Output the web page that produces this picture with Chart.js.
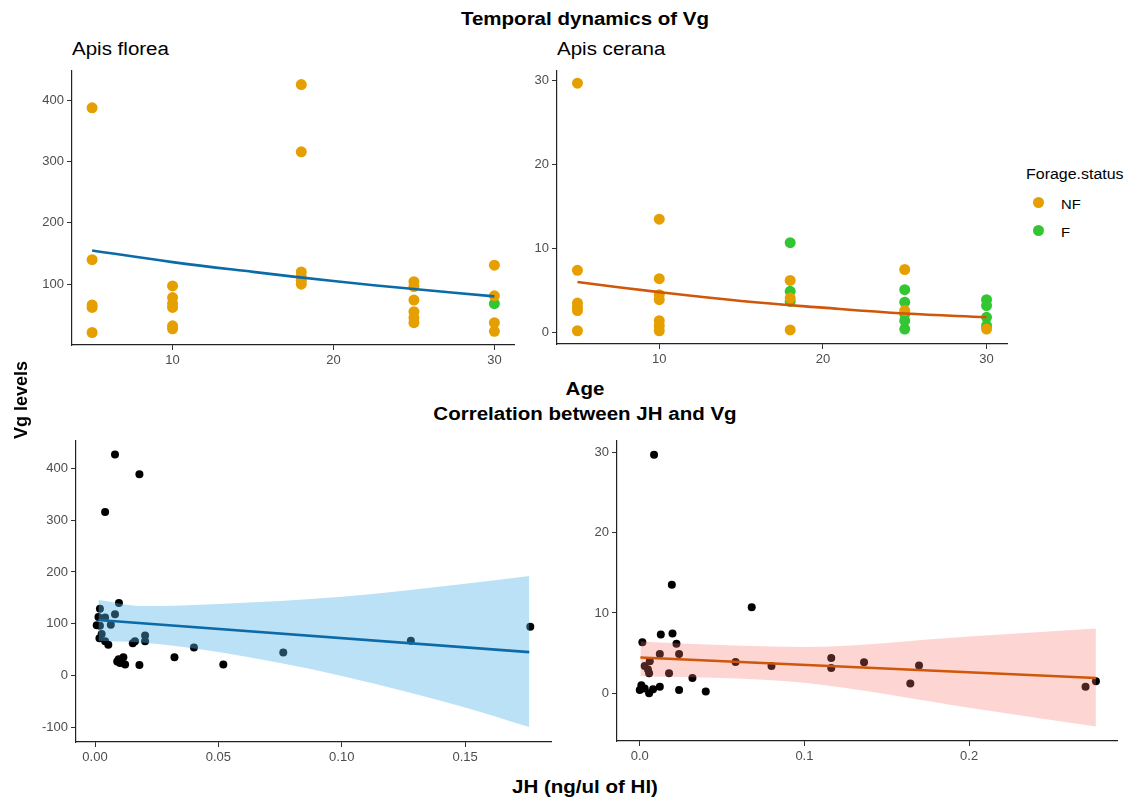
<!DOCTYPE html>
<html>
<head>
<meta charset="utf-8">
<script src="https://cdn.jsdelivr.net/npm/chart.js@4.4.1/dist/chart.umd.min.js"></script>
<style>
  body { margin: 0; background: #fff; font-family: "Liberation Sans", Arial, sans-serif; }
  #page { position: relative; width: 1136px; height: 797px; overflow: hidden; }
  canvas { position: absolute; }
  .t { position: absolute; white-space: nowrap; font-size: 18px; line-height: 18px; color: #000; }
  .b { font-weight: bold; }
  .c { text-align: center; width: 500px; transform: scaleX(1.14); }
  .l { transform: scaleX(1.14); transform-origin: left center; }
  .dot { position: absolute; width: 11px; height: 11px; border-radius: 50%; }
</style>
</head>
<body>
<div id="page">
  <canvas id="plot-1" width="500" height="310" style="left:20px;top:60px"></canvas>
  <canvas id="plot-2" width="495" height="310" style="left:520px;top:60px"></canvas>
  <canvas id="plot-3" width="540" height="340" style="left:20px;top:430px"></canvas>
  <canvas id="plot-4" width="560" height="340" style="left:570px;top:430px"></canvas>

  <div class="t b c" style="left:335px;top:10px">Temporal dynamics of Vg</div>
  <div class="t l" style="left:72px;top:40px">Apis florea</div>
  <div class="t l" style="left:557px;top:40px">Apis cerana</div>
  <div class="t b c" style="left:335px;top:380px">Age</div>
  <div class="t b c" style="left:335px;top:405px">Correlation between JH and Vg</div>
  <div class="t b" style="left:-39px;top:391px;width:120px;text-align:center;transform:rotate(-90deg)">Vg levels</div>
  <div class="t b c" style="left:335px;top:778px">JH (ng/ul of Hl)</div>

  <div class="t l" style="left:1026px;top:165px;font-size:14px">Forage.status</div>
  <div class="dot" style="left:1033px;top:197px;background:#E69F00"></div>
  <div class="t l" style="left:1061px;top:196px;font-size:13px">NF</div>
  <div class="dot" style="left:1033px;top:225px;background:#33C633"></div>
  <div class="t l" style="left:1061px;top:224px;font-size:13px">F</div>
</div>

<script>
// ---- Temporal dynamics: Apis florea ----
const floreaNFAge = [5, 5, 5, 5, 5, 10, 10, 10, 10, 10, 10, 18, 18, 18, 18, 18, 18, 25, 25, 25, 25, 25, 25, 30, 30, 30, 30];
const floreaNFVg = [388, 140, 66, 62, 21, 97, 78, 68, 62, 32, 27, 426, 316, 120, 112, 106, 100, 104, 96, 74, 55, 45, 37, 131, 81, 37, 23];
const floreaFAge = [30];
const floreaFVg = [68];
const floreaFitAge = [5, 10, 15, 20, 25, 30];
const floreaFitVg = [155, 136, 120, 105, 92, 80];

// ---- Temporal dynamics: Apis cerana ----
const ceranaNFAge = [5, 5, 5, 5, 5, 5, 10, 10, 10, 10, 10, 10, 10, 18, 18, 18, 25, 25, 30];
const ceranaNFVg = [29.7, 7.4, 3.5, 3.0, 2.6, 0.2, 13.5, 6.4, 4.5, 3.9, 1.4, 0.8, 0.2, 6.2, 4.1, 0.3, 7.5, 2.6, 0.4];
const ceranaFAge = [18, 18, 18, 25, 25, 25, 25, 25, 30, 30, 30, 30];
const ceranaFVg = [10.7, 4.9, 3.7, 5.1, 3.6, 2.2, 1.4, 0.4, 3.9, 3.2, 1.8, 0.8];
const ceranaFitAge = [5, 10, 15, 20, 25, 30];
const ceranaFitVg = [6.0, 4.8, 3.75, 2.95, 2.25, 1.8];

// ---- Correlation JH vs Vg: Apis florea ----
const floreaJH = [0.0081, 0.018, 0.0041, 0.0097, 0.002, 0.0081, 0.0041, 0.0014, 0.0007, 0.002, 0.0064, 0.0027, 0.0018, 0.0041, 0.0054,
  0.0203, 0.0203, 0.0162, 0.0153, 0.0096, 0.0115, 0.0122, 0.0101, 0.009, 0.018, 0.0322, 0.0401, 0.052, 0.0763, 0.128, 0.1764];
const floreaJHVg = [427, 389, 316, 140, 129, 118, 112, 113, 97, 96, 98, 80, 72, 66, 59,
  77, 66, 66, 62, 31, 35, 21, 24, 27, 20, 35, 54, 21, 44, 67, 94];
const floreaLineJH = [0.0014, 0.176];
const floreaLineVg = [107, 45];
const floreaBandJH = [0.0014, 0.02, 0.05, 0.1, 0.15, 0.176];
const floreaBandHi = [146, 134, 138, 152, 177, 192];
const floreaBandLo = [67, 63, 45, -1, -62, -100];

// ---- Correlation JH vs Vg: Apis cerana ----
const ceranaJH = [0.0087, 0.0195, 0.068, 0.0128, 0.0199, 0.0016, 0.0223, 0.0122, 0.0239, 0.0061, 0.003, 0.005, 0.0057, 0.0178, 0.032,
  0.001, 0.0, 0.003, 0.0057, 0.0081, 0.0122, 0.0239, 0.0401, 0.0582, 0.08, 0.1163, 0.1163, 0.1362, 0.1643, 0.1696, 0.2707, 0.277];
const ceranaJHVg = [29.7, 13.5, 10.7, 7.3, 7.45, 6.35, 6.15, 4.9, 4.9, 3.97, 3.4, 2.95, 2.5, 2.5, 1.9,
  1.0, 0.4, 0.6, 0.0, 0.5, 0.8, 0.4, 0.2, 3.9, 3.4, 4.4, 3.15, 3.85, 1.2, 3.45, 0.8, 1.5];
const ceranaLineJH = [0.0004, 0.277];
const ceranaLineVg = [4.45, 1.9];
const ceranaBandJH = [0.0004, 0.05, 0.1, 0.2, 0.277];
const ceranaBandHi = [6.45, 6.0, 5.75, 7.05, 8.07];
const ceranaBandLo = [2.13, 1.9, 1.3, -1.8, -4.15];

// ---- axis ticks ----
const ageTicks = [10, 20, 30];
const floreaVgTicks = [100, 200, 300, 400];
const ceranaVgTicks = [0, 10, 20, 30];
const floreaJHTicks = [0, 0.05, 0.1, 0.15];
const floreaJHVgTicks = [-100, 0, 100, 200, 300, 400];
const ceranaJHTicks = [0, 0.1, 0.2];

const NF_COL = "#E69F00";
const F_COL = "#33C633";

function pts(xs, ys) {
  return xs.map((x, i) => ({ x: x, y: ys[i] }));
}

function axis(min, max, ticks, digits, size, isY) {
  return {
    type: "linear",
    min: min,
    max: max,
    afterBuildTicks: (s) => { s.ticks = ticks.map((v) => ({ value: v })); },
    afterFit: (s) => { if (isY) s.width = size; else s.height = size; },
    border: { display: true, color: "#222", width: 1.2 },
    grid: { drawOnChartArea: false, drawTicks: true, tickLength: 5, color: "#333", lineWidth: 1 },
    ticks: {
      autoSkip: false,
      maxRotation: 0,
      padding: 3,
      color: "#4d4d4d",
      font: { family: "Liberation Sans, Arial", size: 13 },
      callback: (v) => digits == null ? String(v) : Number(v).toFixed(digits),
    },
  };
}

function scatter(data, color, r, order) {
  return { type: "scatter", data: data, backgroundColor: color, borderWidth: 0, pointRadius: r, order: order, clip: false };
}

function fitLine(data, color, order, tension) {
  return { type: "line", data: data, borderColor: color, borderWidth: 2.6, pointRadius: 0, tension: tension, fill: false, order: order };
}

function band(data, fillColor) {
  return { type: "line", data: data, borderWidth: 0, pointRadius: 0, cubicInterpolationMode: "monotone",
    fill: fillColor ? "-1" : false, backgroundColor: fillColor, order: 1 };
}

function draw(id, datasets, xScale, yScale, pad) {
  new Chart(document.getElementById(id).getContext("2d"), {
    type: "scatter",
    data: { datasets: datasets },
    options: {
      responsive: false,
      animation: false,
      events: [],
      layout: { padding: pad },
      scales: { x: xScale, y: yScale },
      plugins: { legend: { display: false }, tooltip: { enabled: false } },
    },
  });
}

// top left
draw("plot-1", [
  fitLine(pts(floreaFitAge, floreaFitVg), "#0B6BA8", 0, 0.4),
  scatter(pts(floreaNFAge, floreaNFVg), NF_COL, 5.5, 1),
  scatter(pts(floreaFAge, floreaFVg), F_COL, 5.5, 2),
], axis(3.75, 31.25, ageTicks, null, 25, false), axis(0.6, 448.4, floreaVgTicks, null, 52, true),
  { top: 10, right: 5, left: 0, bottom: 0 });

// top right
draw("plot-2", [
  fitLine(pts(ceranaFitAge, ceranaFitVg), "#D0560A", 0, 0.4),
  scatter(pts(ceranaNFAge, ceranaNFVg), NF_COL, 5.5, 1),
  scatter(pts(ceranaFAge, ceranaFVg), F_COL, 5.5, 1),
], axis(3.75, 31.25, ageTicks, null, 26, false), axis(-1.38, 31.18, ceranaVgTicks, null, 37, true),
  { top: 8, right: 8, left: 0, bottom: 0 });

// bottom left
draw("plot-3", [
  fitLine(pts(floreaLineJH, floreaLineVg), "#0B6BA8", 0, 0),
  band(pts(floreaBandJH, floreaBandLo), null),
  band(pts(floreaBandJH, floreaBandHi), "rgba(86,180,233,0.4)"),
  scatter(pts(floreaJH, floreaJHVg), "#000", 4, 2),
], axis(-0.0077, 0.1848, floreaJHTicks, 2, 28, false), axis(-128.9, 453.7, floreaJHVgTicks, null, 56, true),
  { top: 7, right: 9, left: 0, bottom: 0 });

// bottom right
draw("plot-4", [
  fitLine(pts(ceranaLineJH, ceranaLineVg), "#D0560A", 0, 0),
  band(pts(ceranaBandJH, ceranaBandLo), null),
  band(pts(ceranaBandJH, ceranaBandHi), "rgba(248,118,109,0.3)"),
  scatter(pts(ceranaJH, ceranaJHVg), "#000", 4, 2),
], axis(-0.0138, 0.2898, ceranaJHTicks, 1, 29, false), axis(-5.95, 31.44, ceranaVgTicks, null, 47, true),
  { top: 7, right: 13, left: 0, bottom: 0 });
</script>
</body>
</html>
